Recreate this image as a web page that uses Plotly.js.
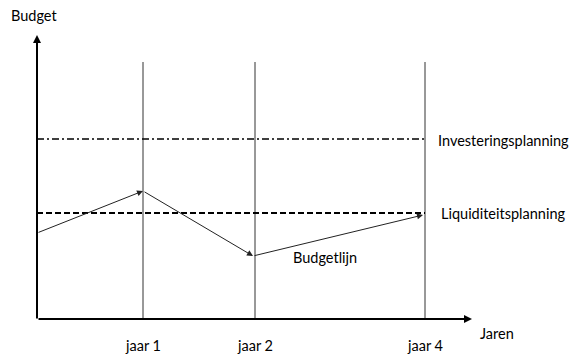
<!DOCTYPE html>
<html>
<head>
<meta charset="utf-8">
<script src="https://cdn.plot.ly/plotly-3.0.1.min.js"></script>
<style>
  html, body { margin: 0; padding: 0; background: #fff; }
  #chart { width: 570px; height: 356px; }
</style>
</head>
<body>
<div id="chart"></div>
<script>
'use strict'
// schematic: units are read straight off the drawing
var jaarLabels = ['jaar 1', 'jaar 2', 'jaar 4'];
var jaarX = [106, 218, 388];
var jaarTop = 257;

var budgetX = [0, 106, 216, 386];
var budgetY = [86, 128, 63, 104];

var investeringY = 180;
var liquiditeitY = 106;
var planEndX = 388;

var xMax = 435, yMax = 284;
var font = 'Lato, "Liberation Sans", sans-serif';

// vertical year lines, one trace with gaps
var vx = [], vy = [];
for (var i = 0; i < jaarX.length; i++) {
  vx.push(jaarX[i], jaarX[i], null);
  vy.push(0, jaarTop, null);
}

var yearLines = {
  type: 'scatter', mode: 'lines', x: vx, y: vy,
  line: {color: '#333', width: 1}, hoverinfo: 'skip'
};

var investering = {
  type: 'scatter', mode: 'lines',
  x: [0, planEndX], y: [investeringY, investeringY],
  line: {color: '#000', width: 1.5, dash: '7px,3px,2px,3px'}
};

var liquiditeit = {
  type: 'scatter', mode: 'lines',
  x: [0, planEndX], y: [liquiditeitY, liquiditeitY],
  line: {color: '#000', width: 2, dash: '6px,3px'}
};

var annotations = [];

// budget line: each segment is an arrow from the previous point
for (var j = 1; j < budgetX.length; j++) {
  annotations.push({
    x: budgetX[j], y: budgetY[j], ax: budgetX[j - 1], ay: budgetY[j - 1],
    xref: 'x', yref: 'y', axref: 'x', ayref: 'y',
    showarrow: true, arrowhead: 2, arrowsize: 1.2, arrowwidth: 1, arrowcolor: '#222',
    text: ''
  });
}

// axes with arrow tips
annotations.push({
  x: xMax, y: 0, ax: 0, ay: 0, xref: 'x', yref: 'y', axref: 'x', ayref: 'y',
  showarrow: true, arrowhead: 2, arrowsize: 0.8, arrowwidth: 2, arrowcolor: '#000', text: ''
});
annotations.push({
  x: 0, y: yMax, ax: 0, ay: -1, xref: 'x', yref: 'y', axref: 'x', ayref: 'y',
  showarrow: true, arrowhead: 2, arrowsize: 0.8, arrowwidth: 2, arrowcolor: '#000', text: ''
});

// labels in paper units so the ones outside the plot area still show
function label(txt, x, y, anchor) {
  annotations.push({
    x: x / xMax, y: y / yMax, xref: 'paper', yref: 'paper', text: txt, showarrow: false,
    xanchor: anchor, yanchor: 'middle', font: {family: font, size: 14.5, color: '#000'}
  });
}

label('Investeringsplanning', 399, 179, 'left');
label('Liquiditeitsplanning', 402, 105, 'left');
label('Budgetlijn', 254, 62, 'left');
label('Jaren', 441, -14, 'left');
label('Budget', -3, 304, 'center');
for (var k = 0; k < jaarLabels.length; k++) {
  label(jaarLabels[k], jaarX[k], -26, 'center');
}

var layout = {
  width: 570,
  height: 356,
  margin: {l: 37, r: 98, t: 35, b: 37, pad: 0},
  paper_bgcolor: '#fff',
  plot_bgcolor: '#fff',
  showlegend: false,
  xaxis: {range: [0, xMax], showgrid: false, zeroline: false, showticklabels: false, showline: false, fixedrange: true},
  yaxis: {range: [0, yMax], showgrid: false, zeroline: false, showticklabels: false, showline: false, fixedrange: true},
  annotations: annotations
};

Plotly.newPlot('chart', [yearLines, investering, liquiditeit], layout, {displayModeBar: false, staticPlot: true});
</script>
</body>
</html>
